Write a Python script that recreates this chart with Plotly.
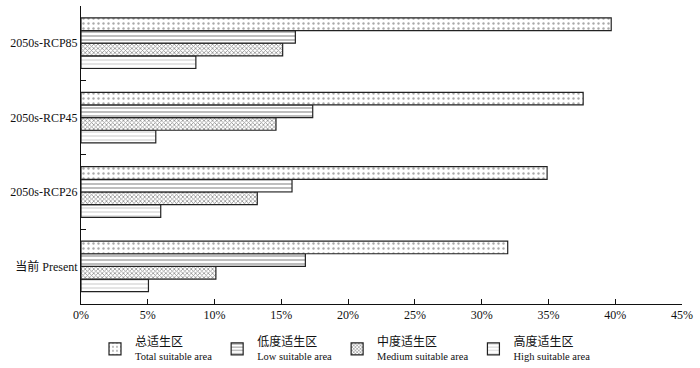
import plotly.graph_objects as go

categories = ["当前 Present", "2050s-RCP26", "2050s-RCP45", "2050s-RCP85"]
total_vals = [31.95, 34.9, 37.6, 39.7]
low_vals = [16.8, 15.8, 17.35, 16.05]
medium_vals = [10.1, 13.2, 14.6, 15.1]
high_vals = [5.05, 5.97, 5.6, 8.6]
series_cn = ["总适生区", "低度适生区", "中度适生区", "高度适生区"]
series_en = ["Total suitable area", "Low suitable area", "Medium suitable area", "High suitable area"]
x_ticks = [0, 5, 10, 15, 20, 25, 30, 35, 40, 45]
x_tick_labels = ["0%", "5%", "10%", "15%", "20%", "25%", "30%", "35%", "40%", "45%"]

FONT = "Liberation Serif, Noto Sans CJK SC, serif"

styles = [
    dict(shape=".", size=5, solidity=0.18, fgcolor="#555"),
    dict(shape="-", size=4, solidity=0.3, fgcolor="#222"),
    dict(shape="x", size=3, solidity=0.45, fgcolor="#222"),
    dict(shape="-", size=4, solidity=0.15, fgcolor="#444"),
]
vals = [total_vals, low_vals, medium_vals, high_vals]

fig = go.Figure()
# add in reverse so that Total appears on top within each group
for i in [3, 2, 1, 0]:
    name = ("<span style='font-size:12px'>" + series_cn[i] + "</span><br>"
            "<span style='font-size:10.5px'>" + series_en[i] + "</span>")
    fig.add_trace(go.Bar(
        y=categories, x=vals[i], orientation="h", name=name,
        marker=dict(color="white", line=dict(color="#222", width=1.2),
                    pattern=dict(bgcolor="white", **styles[i])),
        legendrank=i + 1,
    ))

fig.update_layout(
    width=700, height=368,
    margin=dict(l=81, r=18, t=6, b=63),
    paper_bgcolor="white", plot_bgcolor="white",
    barmode="group", bargap=0.32, bargroupgap=0,
    font=dict(family=FONT, size=12, color="#111"),
    showlegend=True,
    legend=dict(orientation="h", x=95 / 700, xref="container", xanchor="left",
                y=(368 - 328) / 368, yref="container", yanchor="top",
                font=dict(size=11, family=FONT), itemwidth=30,
                bgcolor="rgba(0,0,0,0)"),
    xaxis=dict(range=[0, 45], tickvals=x_ticks, ticktext=x_tick_labels,
               showgrid=False, zeroline=False, showline=True, linecolor="#111",
               linewidth=1, ticks="inside", ticklen=5, tickcolor="#111",
               tickfont=dict(size=12, family=FONT), fixedrange=True),
    yaxis=dict(categoryorder="array", categoryarray=categories,
               showgrid=False, zeroline=False, showline=True, linecolor="#111",
               linewidth=1, ticks="inside", ticklen=5, tickcolor="#111",
               tickson="boundaries", tickfont=dict(size=12, family=FONT),
               fixedrange=True),
)

fig.write_html("out.html", config={"displayModeBar": False},
               post_script="document.body.style.margin='0';")
